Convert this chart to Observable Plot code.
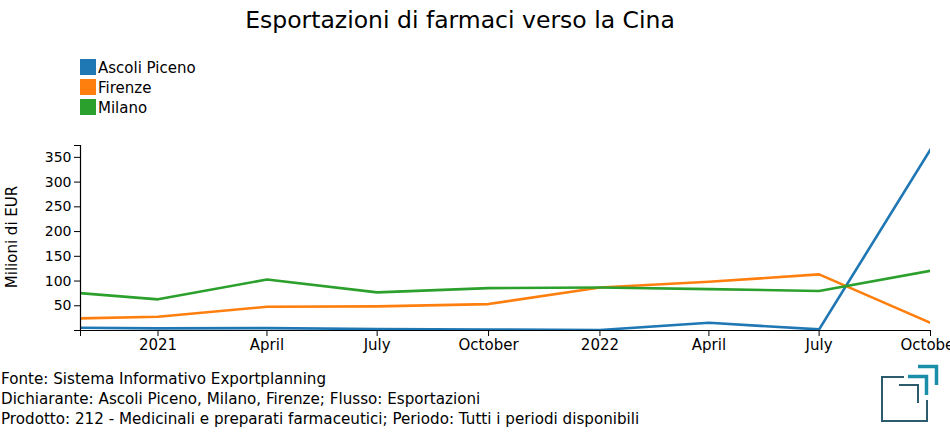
<!DOCTYPE html>
<html>
<head>
<meta charset="utf-8">
<script src="https://cdn.jsdelivr.net/npm/d3@7"></script>
<script src="https://cdn.jsdelivr.net/npm/@observablehq/plot@0.6"></script>
<style>
  html, body { margin: 0; padding: 0; background: #fff; }
  body { width: 950px; height: 435px; position: relative; overflow: hidden; font-family: "DejaVu Sans", sans-serif; color: #000; }
  #title { position: absolute; left: -30px; top: 6px; width: 980px; text-align: center; font-size: 23.5px; }
  #legend { position: absolute; left: 80px; top: 59px; font-size: 15px; }
  .li { height: 20px; display: flex; align-items: flex-start; }
  .sw { width: 16px; height: 16px; margin-right: 2px; }
  .lt { line-height: 18px; }
  #ylab { position: absolute; left: 12px; top: 237px; font-size: 15px; transform: translate(-50%, -50%) rotate(-90deg); white-space: nowrap; }
  #chart { position: absolute; left: 0; top: 130px; }
  #caption { position: absolute; left: 1px; top: 369px; font-family: "DejaVu Sans", sans-serif; font-size: 15.15px; line-height: 20px; white-space: nowrap; }
  #logo { position: absolute; left: 0; top: 0; }
</style>
</head>
<body>
<div id="title">Esportazioni di farmaci verso la Cina</div>
<div id="legend"></div>
<div id="ylab">Milioni di EUR</div>
<div id="chart"></div>
<div id="caption">
  <div>Fonte: Sistema Informativo Exportplanning</div>
  <div>Dichiarante: Ascoli Piceno, Milano, Firenze; Flusso: Esportazioni</div>
  <div>Prodotto: 212 - Medicinali e preparati farmaceutici; Periodo: Tutti i periodi disponibili</div>
</div>
<svg id="logo" width="950" height="435" style="pointer-events:none">
  <path d="M904,377 H882 V421 H927 V400" fill="none" stroke="#2c5b6e" stroke-width="2"/>
  <path d="M899,385 H918 V403" fill="none" stroke="#2c5b6e" stroke-width="2"/>
  <path d="M908,376.5 H926.5 V395" fill="none" stroke="#1a8ea8" stroke-width="3.5"/>
  <path d="M918,366.5 H936.5 V385" fill="none" stroke="#1a8ea8" stroke-width="3.5"/>
</svg>
<script>
// Data (quarterly, million EUR)
const dates = ["2020-10-01","2021-01-01","2021-04-01","2021-07-01","2021-10-01","2022-01-01","2022-04-01","2022-07-01","2022-10-01"];
const cities = ["Ascoli Piceno", "Firenze", "Milano"];
const ascoliPiceno = [6, 4.2, 4.8, 3, 2, 1, 15.6, 2.2, 366];
const firenze = [23, 27.8, 48, 48.7, 53.4, 87, 98.5, 113.4, 15.6];
const milano = [81, 63, 103, 77, 85.7, 87, 83.7, 80, 120.7];
const colors = ["#1f77b4", "#ff7f0e", "#2ca02c"];
const xTicks = ["2021-01-01","2021-04-01","2021-07-01","2021-10-01","2022-01-01","2022-04-01","2022-07-01","2022-10-01"];
const yTicks = [50, 100, 150, 200, 250, 300, 350];

const series = [ascoliPiceno, firenze, milano];
const rows = [];
cities.forEach((c, i) => dates.forEach((d, j) => rows.push({city: c, date: new Date(d + "T00:00:00Z"), value: series[i][j]})));

// legend
const leg = document.getElementById("legend");
cities.forEach((c, i) => {
  const row = document.createElement("div");
  row.className = "li";
  row.innerHTML = `<div class="sw" style="background:${colors[i]}"></div><div class="lt">${c}</div>`;
  leg.appendChild(row);
});

const xStart = new Date("2020-10-29T00:00:00Z");
const xEnd = new Date("2022-10-01T00:00:00Z");
const yMax = 374;
const fmtMonth = d3.utcFormat("%B");
const xFormat = d => (+d === +xStart) ? "" : (d.getUTCMonth() === 0 ? String(d.getUTCFullYear()) : fmtMonth(d));
const yFormat = d => (d === 0 || d === yMax) ? "" : String(d);

const chart = Plot.plot({
  width: 950,
  height: 230,
  marginLeft: 80,
  marginRight: 20,
  marginTop: 15,
  marginBottom: 30,
  style: {fontFamily: "DejaVu Sans", fontSize: "14px", background: "transparent", overflow: "visible", color: "#000"},
  x: {type: "utc", domain: [xStart, xEnd]},
  y: {domain: [0, yMax]},
  color: {domain: cities, range: colors},
  marks: [
    Plot.lineY(rows, {x: "date", y: "value", z: "city", stroke: "city", strokeWidth: 2.6, clip: true}),
    Plot.ruleY([0], {stroke: "#000", strokeWidth: 1.2}),
    Plot.ruleX([xStart], {stroke: "#000", strokeWidth: 1.2}),
    Plot.axisX({ticks: [xStart, ...xTicks.map(d => new Date(d + "T00:00:00Z"))], tickFormat: xFormat, tickSize: 6, tickPadding: 3, fontSize: 15, label: null, stroke: "#000"}),
    Plot.axisY({ticks: [0, ...yTicks, yMax], tickFormat: yFormat, tickSize: 6, tickPadding: 3, fontSize: 14, label: null, stroke: "#000"})
  ]
});
document.getElementById("chart").appendChild(chart);
</script>
</body>
</html>
